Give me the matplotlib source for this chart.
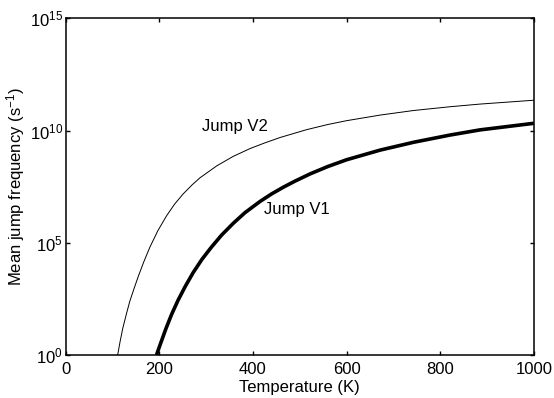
import numpy as np
import matplotlib
matplotlib.use('Agg')
import matplotlib.pyplot as plt

plt.rcParams['font.family'] = ['Liberation Sans', 'DejaVu Sans']
plt.rcParams['mathtext.fontset'] = 'custom'
plt.rcParams['mathtext.rm'] = 'Liberation Sans'
plt.rcParams['mathtext.it'] = 'Liberation Sans'

# values
temp_v2 = [111, 116, 122, 130, 137, 146, 155, 167, 180, 197, 216, 233, 251, 270,
           287, 323, 358, 394, 425, 458, 515, 560, 600, 672, 743, 821, 885, 1000]
freq_v2 = [1.0, 3.8, 15.8, 72, 251, 912, 3.16e3, 1.45e4, 6.5e4, 3.5e5, 1.66e6,
           5.4e6, 1.51e7, 3.8e7, 7.9e7, 2.7e8, 7.1e8, 1.58e9, 2.8e9, 4.9e9,
           1.1e10, 1.86e10, 2.75e10, 4.9e10, 7.8e10, 1.15e11, 1.51e11, 2.24e11]

temp_v1 = [194, 199, 206, 214, 226, 240, 255, 272, 291, 311, 333, 358, 383,
           415, 440, 465, 490, 522, 560, 600, 672, 743, 821, 885, 1000]
freq_v1 = [1.0, 2.0, 5.1, 14.8, 63, 275, 1.1e3, 4.6e3, 1.82e4, 6.3e4, 2.2e5,
           7.4e5, 2.2e6, 6.9e6, 1.51e7, 3.0e7, 5.6e7, 1.17e8, 2.5e8, 5.0e8,
           1.35e9, 3.0e9, 6.3e9, 1.07e10, 2.1e10]

x_ticks = [0, 200, 400, 600, 800, 1000]
y_ticks = [1e0, 1e5, 1e10, 1e15]
y_tick_labels = ['$10^{0}$', '$10^{5}$', '$10^{10}$', '$10^{15}$']

fig = plt.figure(figsize=(5.54, 3.98), dpi=100)
ax = fig.add_axes([0.1186, 0.108, 0.845, 0.846])

ax.plot(temp_v2, freq_v2, color='black', linewidth=0.7, solid_joinstyle='round')
ax.plot(temp_v1, freq_v1, color='black', linewidth=2.6,
        solid_capstyle='butt', solid_joinstyle='round')

ax.set_yscale('log')
ax.set_xlim(0, 1000)
ax.set_ylim(1e0, 1e15)
ax.set_xticks(x_ticks)
ax.set_yticks(y_ticks)
ax.set_yticklabels(y_tick_labels)
ax.minorticks_off()
ax.tick_params(direction='in', top=True, right=True, length=3, width=1,
               labelsize=12)
ax.tick_params(axis='x', pad=5)
ax.tick_params(axis='y', pad=2)
for s in ax.spines.values():
    s.set_linewidth(1.1)

ax.set_xlabel('Temperature (K)', fontsize=12, labelpad=2)
ax.set_ylabel('Mean jump frequency (s$^{-1}$)', fontsize=12, labelpad=2)

ax.text(362, 1.45e10, 'Jump V2', fontsize=12, ha='center', va='center')
ax.text(494, 2.9e6, 'Jump V1', fontsize=12, ha='center', va='center')

fig.savefig('out.png', dpi=100)
